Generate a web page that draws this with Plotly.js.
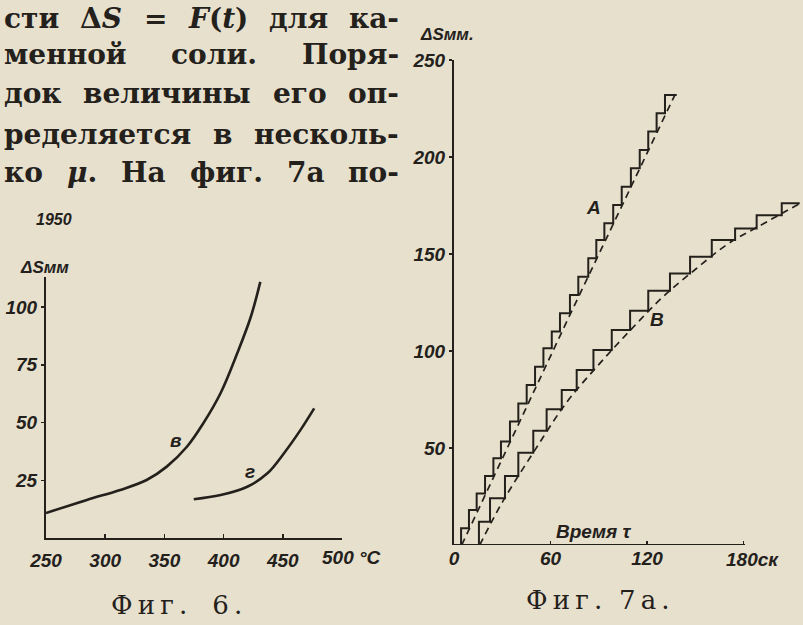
<!DOCTYPE html>
<html>
<head>
<meta charset="utf-8">
<script src="https://cdn.plot.ly/plotly-3.0.1.min.js"></script>
<style>
  html, body { margin: 0; padding: 0; background: #e6e0cc; }
  #fig { width: 803px; height: 625px; }
</style>
</head>
<body>
<div id="fig"></div>
<script>
// ---- Фиг. 6: ΔS (мм) against temperature (°C), curves «в» and «г» ----
const tempV = [250, 284.5, 312.7, 335, 352, 369, 383, 397.5, 411.6, 423, 431];
const dsV   = [10.8, 16.5, 20.8, 25.1, 30.9, 39.5, 49.8, 62.8, 80.1, 95.8, 110.9];
const tempG = [374.8, 397.5, 420, 437, 451, 465, 476.5];
const dsG   = [16.8, 18.6, 22.2, 28.0, 36.7, 46.8, 56.1];
const fig6XTicks = [250, 300, 350, 400, 450, 500];
const fig6XLabels = ['250', '300', '350', '400', '450', ''];
const fig6YTicks = [25, 50, 75, 100];

// ---- Фиг. 7а: ΔS (мм) against time τ (с), step records A and B ----
// time of each jump and the level reached after it
const riseTimeA = [4.4, 9.3, 14.1, 19.3, 24.5, 29.2, 34.8, 40, 45.2, 50.4, 55.6, 60.8, 65.9,
                   72.1, 77.3, 83.5, 88.5, 93.5, 99, 104.3, 110, 115.5, 120.8, 126, 131.2];
const levelA    = [8.6, 18, 26.6, 35.6, 44.7, 53.3, 63.6, 73, 82.5, 91.9, 101.4, 110, 119.4,
                   128.9, 138.3, 147.8, 157.2, 165.8, 175.3, 184.7, 194.2, 203.6, 213.1, 222.5, 232];
const endTimeA  = 138.5;
const riseTimeB = [15.5, 22.4, 31.7, 40, 49.3, 57.6, 67, 76.3, 86.7, 98.1, 109.5, 120.8,
                   134.3, 146.8, 160.3, 174.8, 188.2, 203.8];
const levelB    = [12.0, 24.1, 35.6, 47.6, 58.9, 70.0, 79.9, 90.2, 100.5, 110.8, 120.8, 131.0,
                   140, 148.6, 157.2, 163.2, 170, 176.1];
const endTimeB  = 215;
// smoothed (dashed) curves
const smoothTimeA = [4.8, 72, 138.5];
const smoothA     = [0, 118.5, 234];
const smoothTimeB = [16, 30, 50, 70, 90, 110, 130, 150, 170, 190, 215];
const smoothB     = [0, 22, 48.5, 73.5, 93, 111, 128, 142, 155, 164.5, 176];
const fig7XTicks = [0, 60, 120, 180];
const fig7XLabels = ['0', '60', '120', ''];
const fig7YTicks = [50, 100, 150, 200, 250];

// ---- body text above the figures ----
const textLines = [
  ['сти', 'Δ<i>S</i>', '=', '<i>F</i>(<i>t</i>)', 'для', 'ка-'],
  ['менной', 'соли.', 'Поря-'],
  ['док', 'величины', 'его', 'оп-'],
  ['ределяется', 'в', 'несколь-'],
  ['ко', '<i>μ</i>.', 'На', 'фиг.', '7а', 'по-']
];
const textBaselines = [27, 63, 102, 144, 182];

const ink = '#24201c';
const paperBg = '#e6e0cc';
const W = 803, H = 625;
const px = x => x / W;
const py = y => 1 - y / H;
const ital = s => (s ? '<i>' + s + '</i>' : '');

const sansFam = '"Liberation Sans", Arial, sans-serif';
const tickFont = { family: sansFam, size: 19, color: ink, weight: 700, style: 'italic' };
const labelFont = { family: sansFam, size: 19, color: ink, weight: 700 };
const bodySize = 28;
const bodyFont = { family: '"DejaVu Serif", serif', size: bodySize, color: ink, weight: 700 };
const captionFont = { family: '"DejaVu Serif", serif', size: 26, color: ink };

// step polyline: jump vertically at each rise time, then run horizontally
function stepPath(times, levels, tEnd) {
  const x = [times[0]], y = [0];
  for (let i = 0; i < times.length; i++) { x.push(times[i]); y.push(levels[i]); }
  x.push(tEnd); y.push(levels[levels.length - 1]);
  return { x, y };
}
const stepA = stepPath(riseTimeA, levelA, endTimeA);
const stepB = stepPath(riseTimeB, levelB, endTimeB);

const traces = [
  { x: tempV, y: dsV, xaxis: 'x', yaxis: 'y', mode: 'lines',
    line: { color: ink, width: 2.6, shape: 'spline', smoothing: 1 } },
  { x: tempG, y: dsG, xaxis: 'x', yaxis: 'y', mode: 'lines',
    line: { color: ink, width: 2.6, shape: 'spline', smoothing: 1 } },
  { x: stepA.x, y: stepA.y, xaxis: 'x2', yaxis: 'y2', mode: 'lines',
    line: { color: ink, width: 2, shape: 'hv' } },
  { x: stepB.x, y: stepB.y, xaxis: 'x2', yaxis: 'y2', mode: 'lines',
    line: { color: ink, width: 2, shape: 'hv' } },
  { x: smoothTimeA, y: smoothA, xaxis: 'x2', yaxis: 'y2', mode: 'lines',
    line: { color: ink, width: 1.7, dash: '7px,5px' } },
  { x: smoothTimeB, y: smoothB, xaxis: 'x2', yaxis: 'y2', mode: 'lines',
    line: { color: ink, width: 1.7, dash: '7px,5px', shape: 'spline' } }
];

// justified body text: words spread between the left and right margins
const ctx = document.createElement('canvas').getContext('2d');
ctx.font = 'bold ' + bodySize + 'px "DejaVu Serif"';
const textLeft = 3, textRight = 398;
const annotations = [];
textLines.forEach((words, li) => {
  const widths = words.map(w => ctx.measureText(w.replace(/<[^>]+>/g, '')).width);
  const total = widths.reduce((a, b) => a + b, 0);
  const gap = (textRight - textLeft - total) / (words.length - 1);
  let pos = textLeft;
  words.forEach((w, wi) => {
    annotations.push({ xref: 'paper', yref: 'paper', x: px(pos - 1), y: py(textBaselines[li] - 9),
      xanchor: 'left', yanchor: 'middle', text: w, showarrow: false, font: bodyFont });
    pos += widths[wi] + gap;
  });
});

// figure labels
const note = (x, y, text, font, xa) => annotations.push({ xref: 'paper', yref: 'paper',
  x: px(x), y: py(y), text, showarrow: false, font, xanchor: xa || 'center', yanchor: 'middle' });
note(54, 219, ital('1950'), { family: sansFam, size: 16, color: ink, weight: 700 });
note(44, 267, ital('ΔSмм'), { ...labelFont, size: 17 });
note(447, 34, ital('ΔSмм.'), { ...labelFont, size: 17 });
note(320, 557, ital('500 °C'), labelFont, 'left');
note(724, 559, ital('180ск'), labelFont, 'left');
note(176, 605, 'Ф\u2009и\u2009г\u2009.\u00a0\u00a0\u00a06\u2009.', captionFont);
note(598, 600, 'Ф\u2009и\u2009г\u2009.\u00a0\u00a07\u2009а\u2009.', captionFont);

const dataNote = (xr, yr, x, y, text) => annotations.push({ xref: xr, yref: yr, x, y,
  text: ital(text), showarrow: false, font: labelFont });
dataNote('x', 'y', 359, 42, 'в');
dataNote('x', 'y', 422, 28.7, 'г');
dataNote('x2', 'y2', 87, 174, 'А');
dataNote('x2', 'y2', 126, 116, 'В');
dataNote('x2', 'y2', 87, 7, 'Время τ');

const axisCommon = { showgrid: false, zeroline: false, linecolor: ink, linewidth: 2,
  tickcolor: ink, tickwidth: 1.5, tickfont: tickFont, fixedrange: true };

const layout = {
  width: W, height: H, margin: { l: 0, r: 0, t: 0, b: 0 },
  paper_bgcolor: paperBg, plot_bgcolor: 'rgba(0,0,0,0)', showlegend: false,
  xaxis: { ...axisCommon, domain: [px(46), px(342)], range: [250, 500], anchor: 'y',
    showline: true, ticks: 'inside', ticklen: 4, tickvals: fig6XTicks,
    ticktext: fig6XLabels.map(ital), ticklabelstandoff: 4 },
  yaxis: { ...axisCommon, domain: [py(538), py(277)], range: [0, 113], anchor: 'x',
    showline: true, ticks: 'outside', ticklen: 3, tickvals: fig6YTicks,
    ticktext: fig6YTicks.map(v => ital(String(v))) },
  xaxis2: { ...axisCommon, domain: [px(454), px(802)], range: [0, 216.4], anchor: 'y2',
    showline: false, ticks: 'inside', ticklen: 4, tickvals: fig7XTicks,
    ticktext: fig7XLabels.map(ital), ticklabelstandoff: 0 },
  yaxis2: { ...axisCommon, domain: [py(545), py(60)], range: [0, 250], anchor: 'x2',
    showline: true, ticks: 'outside', ticklen: 3, tickvals: fig7YTicks,
    ticktext: fig7YTicks.map(v => ital(String(v))) },
  shapes: [
    { type: 'line', xref: 'x2', yref: 'y2', x0: 0, x1: 181, y0: 0, y1: 0,
      line: { color: ink, width: 2 } }
  ],
  annotations
};

Plotly.newPlot('fig', traces, layout, { staticPlot: true, displayModeBar: false });
</script>
</body>
</html>
